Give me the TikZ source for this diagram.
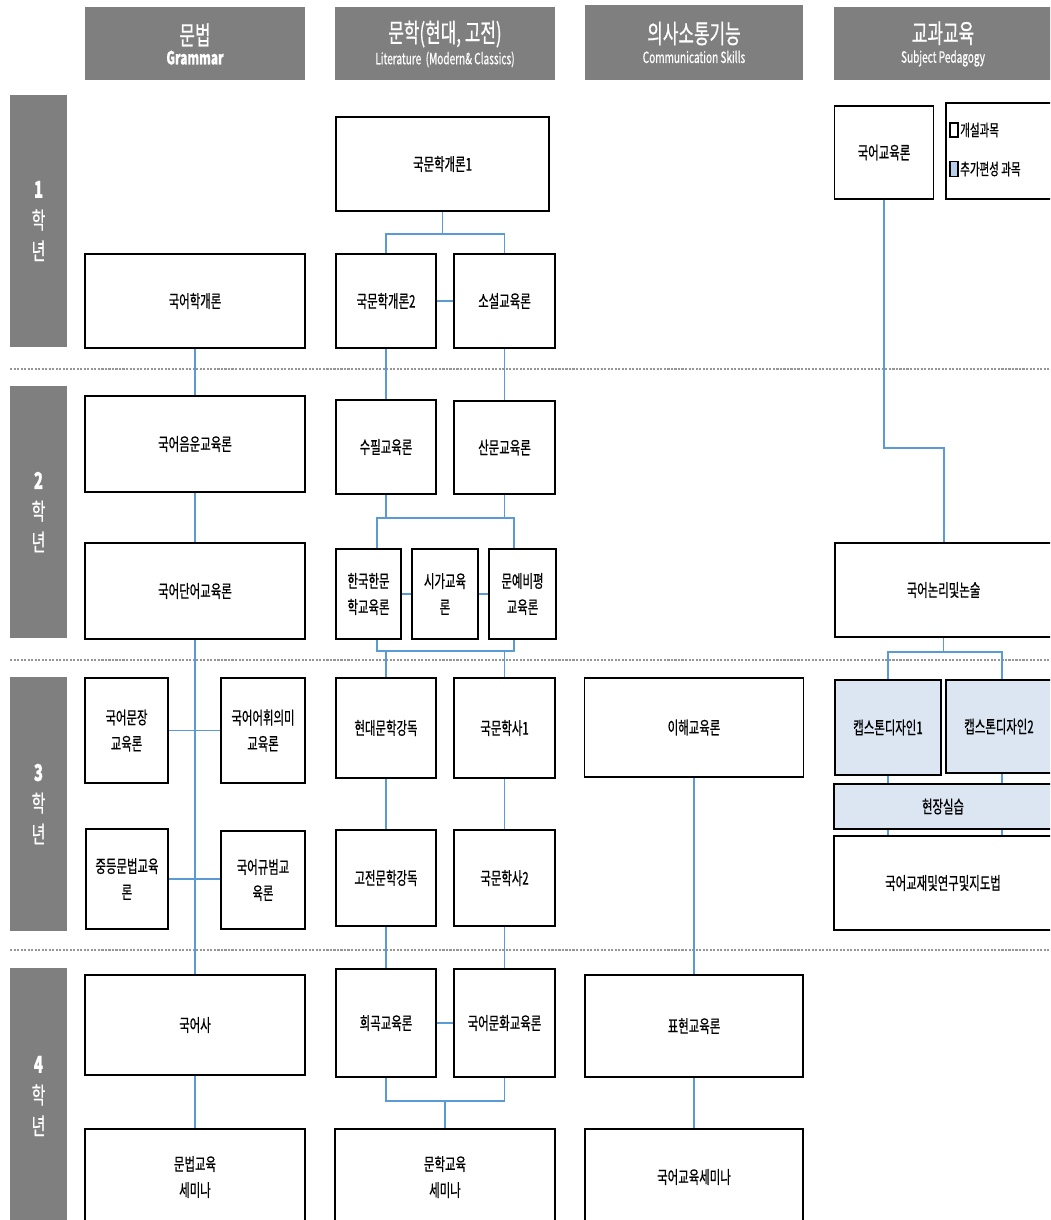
\documentclass[tikz,border=0pt]{standalone}
\usepackage{fontspec}
\newfontfamily\kr[FakeStretch=0.65,FakeBold=0.6]{Noto Sans CJK KR}
\definecolor{bandgray}{RGB}{127,127,127}
\definecolor{linkblue}{RGB}{91,155,213}
\definecolor{extrablue}{RGB}{220,230,242}
\definecolor{legblue}{RGB}{184,206,232}
\definecolor{sepgray}{RGB}{150,150,150}
\tikzset{
  sz/.style 2 args={minimum width=#1*0.025cm, minimum height=#2*0.025cm},
  course/.style={draw=black, line width=1pt, fill=white, inner sep=1pt, align=center,
    font=\kr\fontsize{12.5}{18.5}\selectfont},
  extra/.style={course, fill=extrablue},
  band/.style={fill=bandgray, text=white, inner sep=0pt, align=center},
  yearband/.style={band, font=\kr\fontsize{16.5}{22}\selectfont},
  link/.style={draw=linkblue, line width=1pt},
  sep/.style={draw=sepgray, line width=0.8pt, dash pattern=on 1.5pt off 1pt},
}
\begin{document}
\begin{tikzpicture}[x=0.025cm, y=-0.025cm]
  \clip (0,0) rectangle (1050,1220);

  % year separators
  \draw[sep] (10,369) -- (1050,369);
  \draw[sep] (10,660) -- (1050,660);
  \draw[sep] (10,950) -- (1050,950);

  % column headers
  \node[band, sz={220}{73}] (hG) at (195,44)
    {{\kr\fontsize{18.5}{20}\selectfont 문법}\\[2pt]{\kr\fontsize{13}{14}\selectfont\bfseries Grammar}};
  \node[band, sz={220}{73}] (hL) at (445,44)
    {{\kr\fontsize{18.5}{20}\selectfont 문학(현대, 고전)}\\[2pt]{\kr\fontsize{11}{14}\selectfont Literature\ \ (Modern\&\ Classics)}};
  \node[band, sz={218}{75}] (hC) at (694,42.5)
    {{\kr\fontsize{18.5}{20}\selectfont 의사소통기능}\\[2pt]{\kr\fontsize{11}{14}\selectfont Communication Skills}};
  \node[band, sz={218}{73}] (hP) at (943,44)
    {{\kr\fontsize{18.5}{20}\selectfont 교과교육}\\[2pt]{\kr\fontsize{11}{14}\selectfont Subject Pedagogy}};

  % year bands
  \node[yearband, sz={57}{252}] (y1) at (38.5,221) {\textbf{1}\\학\\년};
  \node[yearband, sz={57}{252}] (y2) at (38.5,512) {\textbf{2}\\학\\년};
  \node[yearband, sz={57}{254}] (y3) at (38.5,804) {\textbf{3}\\학\\년};
  \node[yearband, sz={57}{256}] (y4) at (38.5,1096) {\textbf{4}\\학\\년};

  % grammar
  \node[course, sz={220}{94}] (gA) at (195,301) {국어학개론};
  \node[course, sz={220}{96}] (gB) at (195,444) {국어음운교육론};
  \node[course, sz={220}{96}] (gC) at (195,591) {국어단어교육론};
  \node[course, sz={83}{105}] (gD) at (126.5,730.5) {국어문장\\교육론};
  \node[course, sz={84}{105}] (gE) at (263,730.5) {국어어휘의미\\교육론};
  \node[course, sz={82}{100}] (gF) at (127,879) {중등문법교육\\론};
  \node[course, sz={84}{98}] (gG) at (263,880) {국어규범교\\육론};
  \node[course, sz={220}{100}] (gH) at (195,1025) {국어사};
  \node[course, sz={220}{96}] (gI) at (195,1177) {문법교육\\세미나};

  % literature
  \node[course, sz={213}{94}] (lA) at (442.5,164) {국문학개론1};
  \node[course, sz={100}{94}] (lB) at (386,301) {국문학개론2};
  \node[course, sz={101}{94}] (lC) at (504.5,301) {소설교육론};
  \node[course, sz={100}{94}] (lD) at (386,447) {수필교육론};
  \node[course, sz={101}{93}] (lE) at (504.5,447.5) {산문교육론};
  \node[course, sz={65}{90}] (lF) at (368.5,594) {한국한문\\학교육론};
  \node[course, sz={66}{90}] (lG) at (445,594) {시가교육\\론};
  \node[course, sz={67}{90}] (lH) at (522.5,594) {문예비평\\교육론};
  \node[course, sz={100}{100}] (lI) at (386,728) {현대문학강독};
  \node[course, sz={101}{100}] (lJ) at (504.5,728) {국문학사1};
  \node[course, sz={100}{96}] (lK) at (386,878) {고전문학강독};
  \node[course, sz={101}{96}] (lL) at (504.5,878) {국문학사2};
  \node[course, sz={100}{108}] (lM) at (386,1023) {희곡교육론};
  \node[course, sz={101}{108}] (lN) at (504.5,1023) {국어문화교육론};
  \node[course, sz={220}{96}] (lO) at (445,1177) {문학교육\\세미나};

  % communication
  \node[course, sz={219}{99}] (cA) at (694,727.5) {이해교육론};
  \node[course, sz={218}{102}] (cB) at (694,1026) {표현교육론};
  \node[course, sz={218}{96}] (cC) at (694,1177) {국어교육세미나};

  % pedagogy
  \node[course, sz={99}{93}] (pA) at (884,152.5) {국어교육론};
  \node[course, sz={106}{96}] (legend) at (999,151) {};
  \node[draw, line width=0.8pt, fill=white, sz={8}{14}, inner sep=0pt] (legsqA) at (954,130) {};
  \node[anchor=west, inner sep=1pt, font=\kr\fontsize{11.5}{12}\selectfont] (legA) at (legsqA.east) {개설과목};
  \node[draw, line width=0.8pt, fill=legblue, sz={8}{15}, inner sep=0pt] (legsqB) at (954,169) {};
  \node[anchor=west, inner sep=1pt, font=\kr\fontsize{11.5}{12}\selectfont] (legB) at (legsqB.east) {추가편성 과목};
  \node[course, sz={217}{94}] (pB) at (943.5,590) {국어논리및논술};
  \node[extra, sz={106}{95}] (pC) at (888,727.5) {캡스톤디자인1};
  \node[extra, sz={106}{93}] (pD) at (999,726.5) {캡스톤디자인2};
  \node[extra, sz={218}{45}] (pE) at (943,806.5) {현장실습};
  \node[course, sz={218}{94}] (pF) at (943,883) {국어교재및연구및지도법};

  % branch points
  \coordinate (lsplitA) at (442.5,234);
  \coordinate (lbarB) at (377,518);
  \coordinate (lbarC) at (514,518);
  \coordinate (lbarD) at (377,651);
  \coordinate (lbarE) at (514,651);
  \coordinate (lsplitF) at (445,1101);
  \coordinate (pbend) at (944,448);
  \coordinate (pbarL) at (888,652);
  \coordinate (pbarR) at (1002,652);

  % grammar links
  \draw[link] (gA) -- (gB);
  \draw[link] (gB) -- (gC);
  \draw[link] (gC) -- (gH);
  \draw[link] (gD.east) -- (gE.west);
  \draw[link] (gF.east) -- (gF.east -| gG.west);
  \draw[link] (gH) -- (gI);

  % literature links
  \draw[link] (lA.south) -- (lsplitA);
  \draw[link] (lB.north) |- (lsplitA) -| (lC.north);
  \draw[link] (lB.east) -- (lC.west);
  \draw[link] (lB) -- (lD);
  \draw[link] (lC) -- (lE);
  \draw[link] (lD.south) -- (lD.south |- lbarB);
  \draw[link] (lE.south) -- (lE.south |- lbarB);
  \draw[link] (lbarB |- lF.north) -- (lbarB) -- (lbarC) -- (lbarC |- lH.north);
  \draw[link] (lF.east) -- (lG.west);
  \draw[link] (lG.east) -- (lH.west);
  \draw[link] (lbarD |- lF.south) -- (lbarD) -- (lbarE) -- (lbarE |- lH.south);
  \draw[link] (lI.north) -- (lI.north |- lbarD);
  \draw[link] (lJ.north) -- (lJ.north |- lbarD);
  \draw[link] (lI) -- (lK);
  \draw[link] (lJ) -- (lL);
  \draw[link] (lK) -- (lM);
  \draw[link] (lL) -- (lN);
  \draw[link] (lM.east) -- (lN.west);
  \draw[link] (lM.south) |- (lsplitF) -| (lN.south);
  \draw[link] (lsplitF) -- (lO.north);

  % communication links
  \draw[link] (cA) -- (cB);
  \draw[link] (cB) -- (cC);

  % pedagogy links
  \draw[link] (pA.south) |- (pbend) -- (pbend |- pB.north);
  \draw[link] (pB.south) -- (pB.south |- pbarL);
  \draw[link] (pbarL |- pC.north) -- (pbarL) -- (pbarR) -- (pbarR |- pD.north);
  \draw[link] (pbarL |- pC.south) -- (pbarL |- pE.north);
  \draw[link] (pbarR |- pD.south) -- (pbarR |- pE.north);
  \draw[link] (pbarL |- pE.south) -- (pbarL |- pF.north);
  \draw[link] (pbarR |- pE.south) -- (pbarR |- pF.north);
\end{tikzpicture}
\end{document}
